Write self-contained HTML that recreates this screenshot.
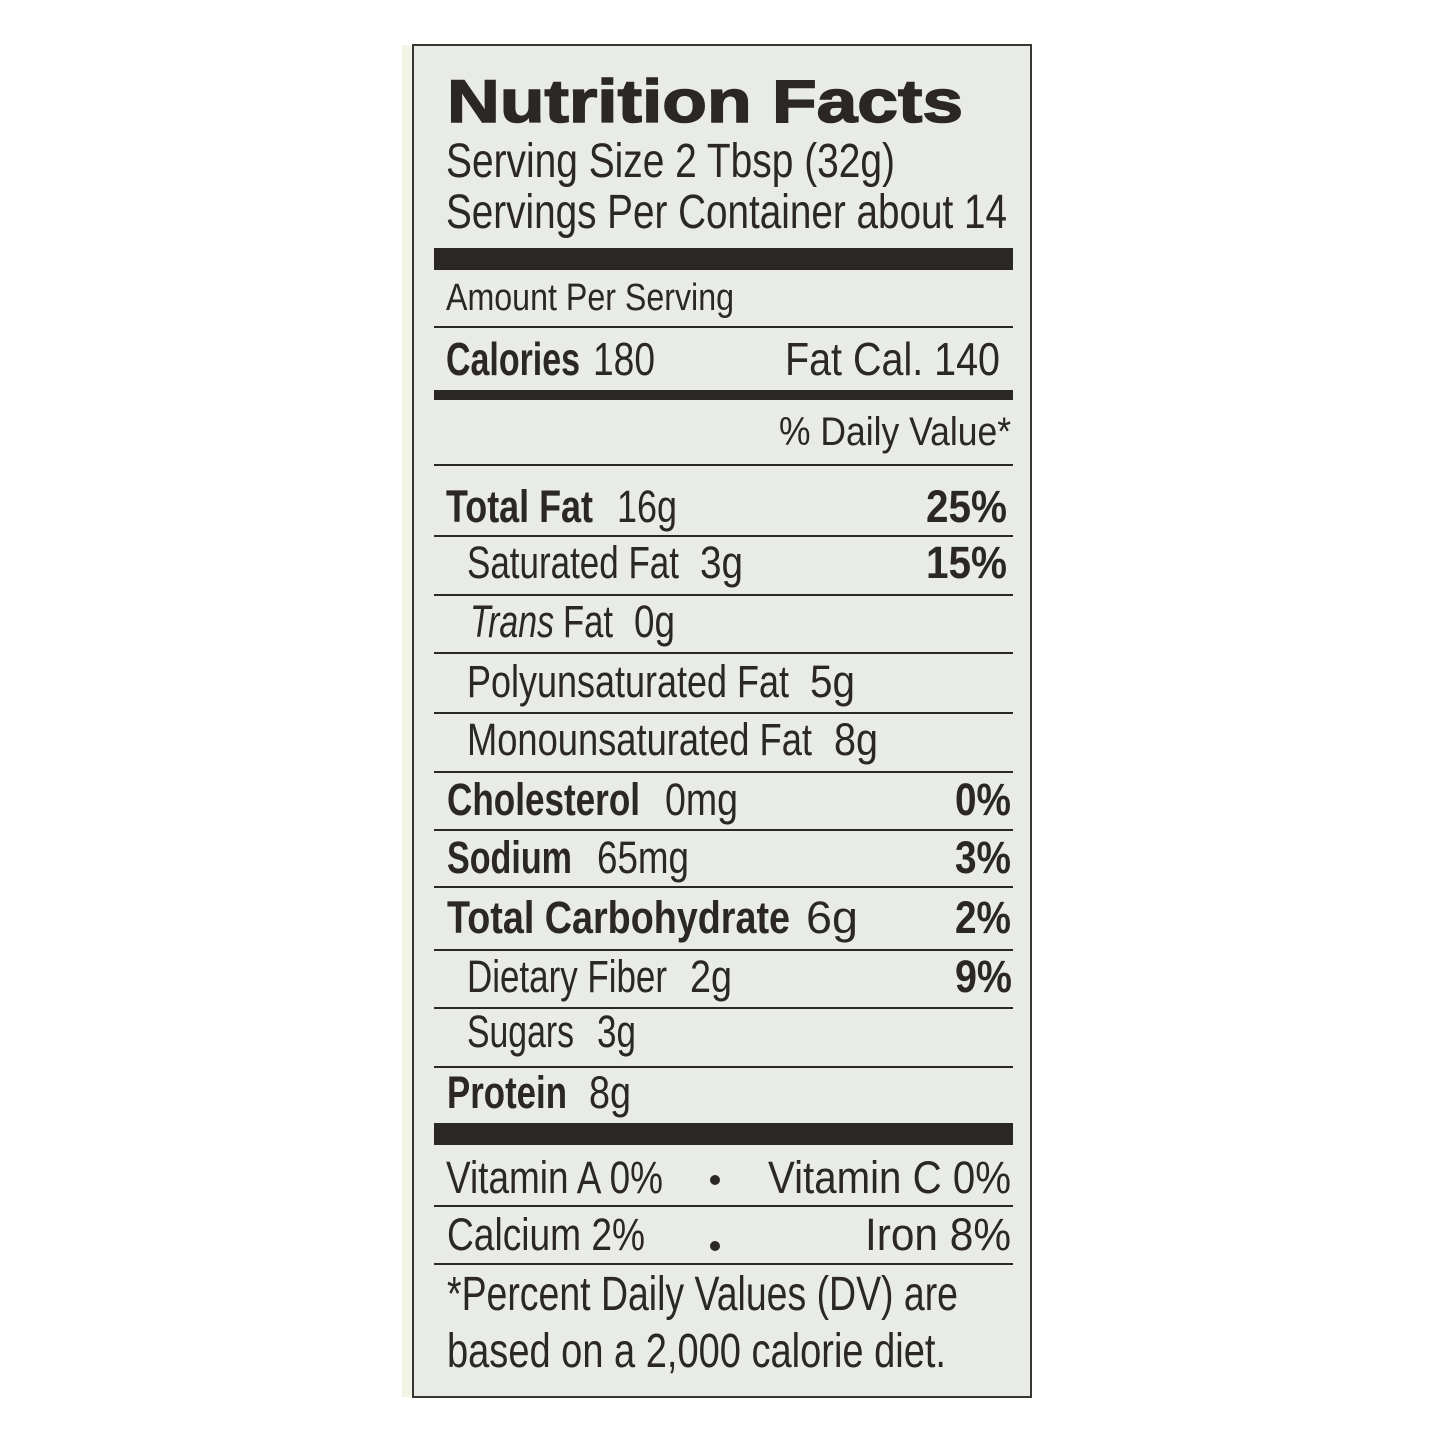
<!DOCTYPE html>
<html><head><meta charset="utf-8"><style>
html,body{margin:0;padding:0;background:#fff;}
svg{display:block;}
text{font-family:"Liberation Sans",sans-serif;fill:#2b2725;}
.b{font-weight:bold;}
</style></head><body>
<svg width="1445" height="1445" viewBox="0 0 1445 1445" xmlns="http://www.w3.org/2000/svg">
<rect x="0" y="0" width="1445" height="1445" fill="#ffffff"/>
<rect x="402" y="45" width="12" height="1352" fill="#f3f4e6"/>
<rect x="413" y="45" width="618" height="1352" fill="#e9ebe7" stroke="#3a3634" stroke-width="2"/>
<g fill="#2b2725">
<rect x="434" y="248" width="579" height="22"/>
<rect x="434" y="326" width="579" height="2"/>
<rect x="434" y="390" width="579" height="10"/>
<rect x="434" y="464" width="579" height="2"/>
<rect x="434" y="535" width="579" height="2"/>
<rect x="434" y="594" width="579" height="2"/>
<rect x="434" y="652" width="579" height="2"/>
<rect x="434" y="712" width="579" height="2"/>
<rect x="434" y="771" width="579" height="2"/>
<rect x="434" y="829" width="579" height="2"/>
<rect x="434" y="886" width="579" height="2"/>
<rect x="434" y="949" width="579" height="2"/>
<rect x="434" y="1007" width="579" height="2"/>
<rect x="434" y="1066" width="579" height="2"/>
<rect x="434" y="1123" width="579" height="22"/>
<rect x="434" y="1205" width="579" height="2"/>
<rect x="434" y="1263" width="579" height="2"/>
<circle cx="715" cy="1180" r="5"/>
<circle cx="715" cy="1246" r="5"/>
</g>
<text class="b" x="447" y="122" font-size="60" textLength="516" lengthAdjust="spacingAndGlyphs" stroke="#2b2725" stroke-width="1.5">Nutrition Facts</text>
<text x="446" y="177" font-size="48" textLength="449" lengthAdjust="spacingAndGlyphs">Serving Size 2 Tbsp (32g)</text>
<text x="446" y="228" font-size="48" textLength="561" lengthAdjust="spacingAndGlyphs">Servings Per Container about 14</text>
<text x="446" y="310" font-size="38" textLength="288" lengthAdjust="spacingAndGlyphs">Amount Per Serving</text>
<text class="b" x="446" y="375" font-size="46" textLength="134" lengthAdjust="spacingAndGlyphs">Calories</text>
<text x="593" y="375" font-size="46" textLength="62" lengthAdjust="spacingAndGlyphs">180</text>
<text x="785" y="375" font-size="46" textLength="215" lengthAdjust="spacingAndGlyphs">Fat Cal. 140</text>
<text x="779" y="445" font-size="40" textLength="232" lengthAdjust="spacingAndGlyphs">% Daily Value*</text>

<text class="b" x="446" y="522" font-size="45" textLength="147" lengthAdjust="spacingAndGlyphs">Total Fat</text>
<text x="617" y="522" font-size="45" textLength="60" lengthAdjust="spacingAndGlyphs">16g</text>
<text class="b" x="926" y="522" font-size="45" textLength="81" lengthAdjust="spacingAndGlyphs">25%</text>

<text x="467" y="578" font-size="45" textLength="212" lengthAdjust="spacingAndGlyphs">Saturated Fat</text>
<text x="700" y="578" font-size="45" textLength="43" lengthAdjust="spacingAndGlyphs">3g</text>
<text class="b" x="926" y="578" font-size="45" textLength="81" lengthAdjust="spacingAndGlyphs">15%</text>

<text x="470" y="637" font-size="45" font-style="italic" textLength="84" lengthAdjust="spacingAndGlyphs">Trans</text>
<text x="563" y="637" font-size="45" textLength="50" lengthAdjust="spacingAndGlyphs">Fat</text>
<text x="634" y="637" font-size="45" textLength="41" lengthAdjust="spacingAndGlyphs">0g</text>

<text x="467" y="697" font-size="45" textLength="322" lengthAdjust="spacingAndGlyphs">Polyunsaturated Fat</text>
<text x="810" y="697" font-size="45" textLength="45" lengthAdjust="spacingAndGlyphs">5g</text>

<text x="467" y="755" font-size="45" textLength="345" lengthAdjust="spacingAndGlyphs">Monounsaturated Fat</text>
<text x="834" y="755" font-size="45" textLength="44" lengthAdjust="spacingAndGlyphs">8g</text>

<text class="b" x="447" y="815" font-size="45" textLength="193" lengthAdjust="spacingAndGlyphs">Cholesterol</text>
<text x="665" y="815" font-size="45" textLength="73" lengthAdjust="spacingAndGlyphs">0mg</text>
<text class="b" x="955" y="815" font-size="45" textLength="56" lengthAdjust="spacingAndGlyphs">0%</text>

<text class="b" x="447" y="873" font-size="45" textLength="125" lengthAdjust="spacingAndGlyphs">Sodium</text>
<text x="597" y="873" font-size="45" textLength="92" lengthAdjust="spacingAndGlyphs">65mg</text>
<text class="b" x="955" y="873" font-size="45" textLength="56" lengthAdjust="spacingAndGlyphs">3%</text>

<text class="b" x="447" y="933" font-size="45" textLength="343" lengthAdjust="spacingAndGlyphs">Total Carbohydrate</text>
<text x="806" y="933" font-size="45" textLength="52" lengthAdjust="spacingAndGlyphs">6g</text>
<text class="b" x="955" y="933" font-size="45" textLength="56" lengthAdjust="spacingAndGlyphs">2%</text>

<text x="467" y="992" font-size="45" textLength="200" lengthAdjust="spacingAndGlyphs">Dietary Fiber</text>
<text x="690" y="992" font-size="45" textLength="42" lengthAdjust="spacingAndGlyphs">2g</text>
<text class="b" x="955" y="992" font-size="45" textLength="57" lengthAdjust="spacingAndGlyphs">9%</text>

<text x="467" y="1047" font-size="45" textLength="107" lengthAdjust="spacingAndGlyphs">Sugars</text>
<text x="597" y="1047" font-size="45" textLength="39" lengthAdjust="spacingAndGlyphs">3g</text>

<text class="b" x="447" y="1108" font-size="45" textLength="120" lengthAdjust="spacingAndGlyphs">Protein</text>
<text x="589" y="1108" font-size="45" textLength="42" lengthAdjust="spacingAndGlyphs">8g</text>

<text x="446" y="1193" font-size="45" textLength="217" lengthAdjust="spacingAndGlyphs">Vitamin A  0%</text>
<text x="768" y="1193" font-size="45" textLength="243" lengthAdjust="spacingAndGlyphs">Vitamin C  0%</text>
<text x="447" y="1250" font-size="45" textLength="198" lengthAdjust="spacingAndGlyphs">Calcium  2%</text>
<text x="865" y="1250" font-size="45" textLength="146" lengthAdjust="spacingAndGlyphs">Iron  8%</text>

<text x="447" y="1310" font-size="48" textLength="511" lengthAdjust="spacingAndGlyphs">*Percent Daily Values (DV) are</text>
<text x="447" y="1367" font-size="48" textLength="499" lengthAdjust="spacingAndGlyphs">based on a 2,000 calorie diet.</text>
</svg>
</body></html>
